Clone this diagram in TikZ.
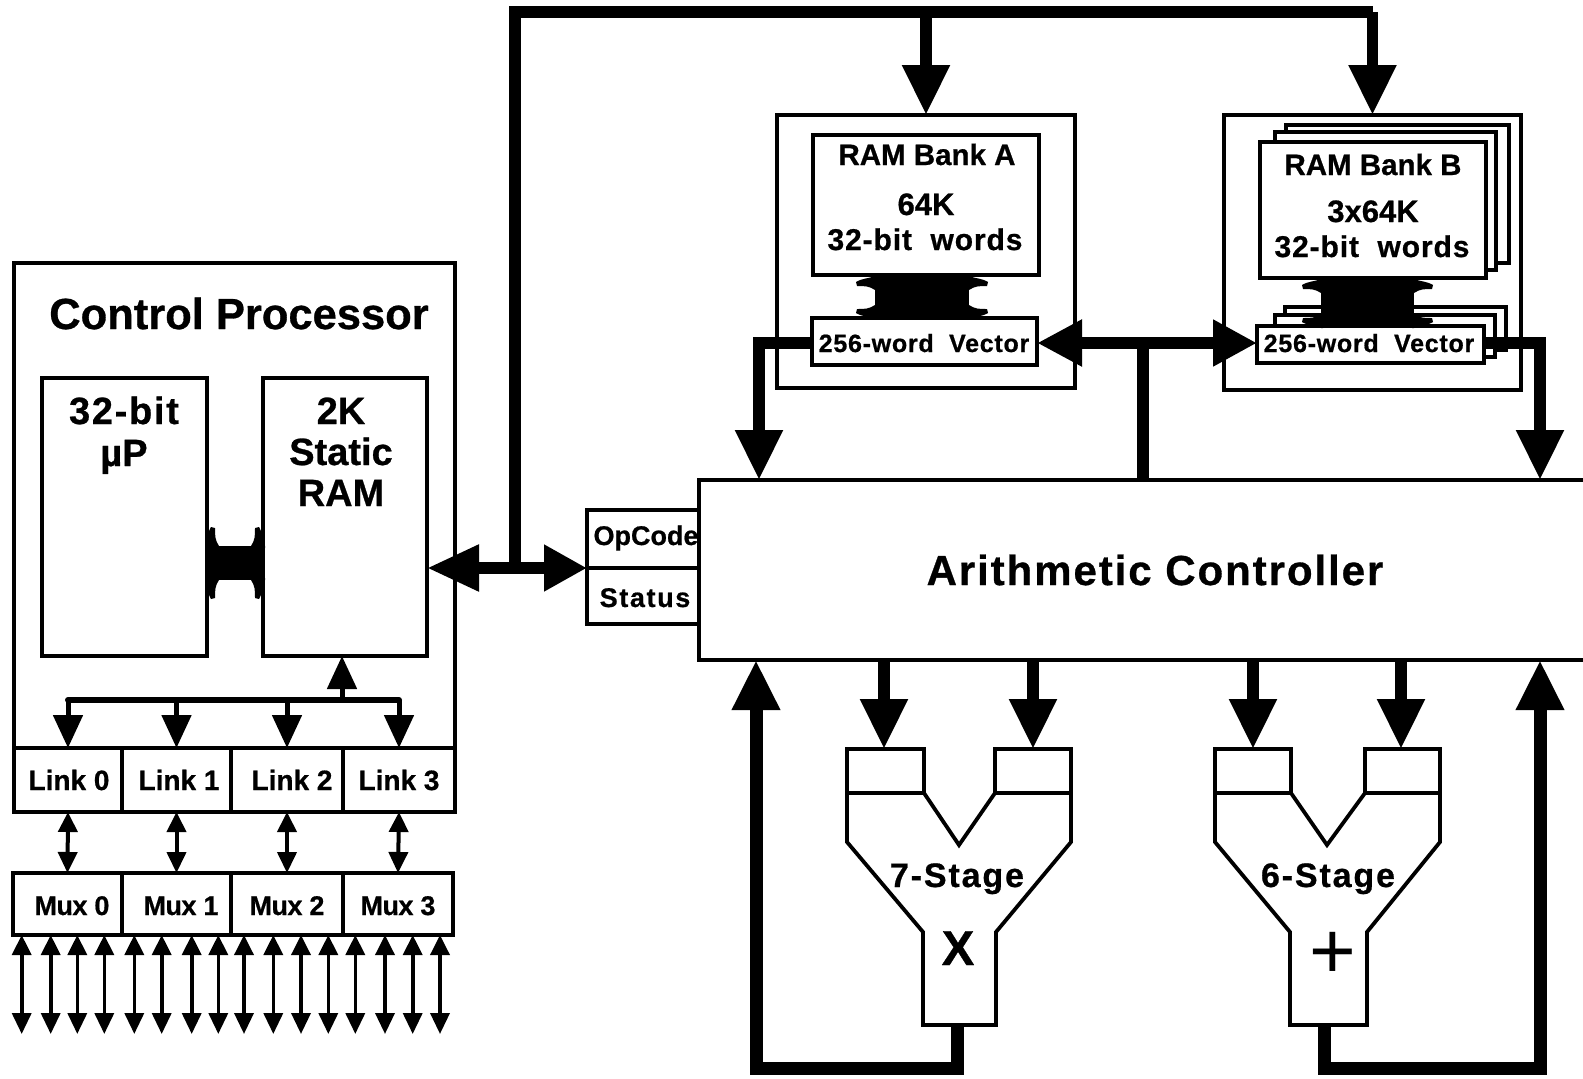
\documentclass[tikz,border=0pt]{standalone}
\usepackage{fontspec}
\setmainfont{Liberation Sans}
\usetikzlibrary{arrows.meta,fit}
\newcommand\fsz[2]{\fontsize{#1}{#1}\selectfont\addfontfeature{LetterSpace=#2,FakeBold=0.7}}
\newcommand\flangev[4]{\fill[shift={(#1,#2)},xscale=#3,yscale=#4] (2,-2) -- (0,-2) .. controls (-8,1) and (-12,0) .. (-19,4) -- (-18,8) .. controls (-10,8) and (-6,8) .. (0,12) -- (2,12) -- cycle;}
\newcommand\flangeh[4]{\fill[shift={(#1,#2)},xscale=#3,yscale=#4] (-2,2) -- (-2,0) .. controls (1,-8) and (0,-12) .. (4,-19) -- (8,-18) .. controls (8,-10) and (8,-6) .. (12,0) -- (12,2) -- cycle;}
\tikzset{
  box/.style={draw=black,line width=3.8pt,fill=white,inner sep=0pt,outer sep=0pt,line join=miter},
  outline/.style={draw=black,line width=3.8pt,line join=miter},
  lab/.style={anchor=base,inner sep=0pt,font=\bfseries,text=black},
  bigbus/.style={line width=11.5pt,draw=black,line join=miter},
  bighead/.style={-{Triangle[length=50pt,width=45pt]}},
  bothhead/.style={{Triangle[length=45pt,width=44pt]}-{Triangle[length=44pt,width=44pt]}},
  cphead/.style={{Triangle[length=52pt,width=44pt]}-{Triangle[length=43pt,width=44pt]}},
  linkhead/.style={line width=5pt,-{Triangle[length=33pt,width=29pt]}},
  smalldbl/.style={line width=4pt,{Triangle[length=20pt,width=19pt]}-{Triangle[length=21pt,width=19pt]}},
}
\begin{document}
\begin{tikzpicture}[x=1pt,y=-1pt]
\useasboundingbox[fill=white] (0,0) rectangle (1583,1079);
% Control processor
\node[box,fit={(14,263)(455,748)}] (cp) {};
\node[box,fit={(42,378)(207,656)}] (up) {};
\node[box,fit={(263,378)(427,656)}] (ram) {};
\node[box,fit={(14,748)(122,812)}] (link0) {};
\node[box,fit={(122,748)(231,812)}] (link1) {};
\node[box,fit={(231,748)(343,812)}] (link2) {};
\node[box,fit={(343,748)(455,812)}] (link3) {};
\node[box,fit={(13,873)(122,935)}] (mux0) {};
\node[box,fit={(122,873)(231,935)}] (mux1) {};
\node[box,fit={(231,873)(343,935)}] (mux2) {};
\node[box,fit={(343,873)(453,935)}] (mux3) {};
\node[lab] (tcp) at (239,329) {\fsz{43.5}{0}Control Processor};
\node[lab] (tup1) at (124,424) {\fsz{38}{4.5}32-bit};
\node[lab] (tup2) at (124,466) {\fsz{38}{0}µP};
\node[lab] (tr1) at (341,424) {\fsz{38}{0}2K};
\node[lab] (tr2) at (341,465) {\fsz{38}{0}Static};
\node[lab] (tr3) at (341,506) {\fsz{38}{0}RAM};
\node[lab] (tl0) at (69,790) {\fsz{28}{0}Link 0};
\node[lab] (tl1) at (179,790) {\fsz{28}{0}Link 1};
\node[lab] (tl2) at (292,790) {\fsz{28}{0}Link 2};
\node[lab] (tl3) at (399,790) {\fsz{28}{0}Link 3};
\node[lab] (tm0) at (72,915) {\fsz{27}{-2}Mux 0};
\node[lab] (tm1) at (181,915) {\fsz{27}{-2}Mux 1};
\node[lab] (tm2) at (287,915) {\fsz{27}{-2}Mux 2};
\node[lab] (tm3) at (398,915) {\fsz{27}{-2}Mux 3};
% internal bus up--ram
\draw[line width=34pt] (up.east |- 0,563) -- (ram.west |- 0,563);
\flangeh{207}{546}{1}{1}\flangeh{263}{546}{-1}{1}\flangeh{207}{580}{1}{-1}\flangeh{263}{580}{-1}{-1}
% link bus
\coordinate (lb) at (0,700);
\draw[line width=6pt,line cap=round] (link0.north |- lb) -- (link3.north |- lb);
\draw[linkhead] (link0.north |- lb) -- (link0.north);
\draw[linkhead] (link1.north |- lb) -- (link1.north);
\draw[linkhead] (link2.north |- lb) -- (link2.north);
\draw[linkhead] (link3.north |- lb) -- (link3.north);
\draw[linkhead] (ram.south |- lb) ++(-3,0) coordinate (ru) -- (ru |- ram.south);
% link <-> mux
\draw[smalldbl] (link0.south) -- (mux0.north);
\draw[smalldbl] (link1.south) -- (mux1.north);
\draw[smalldbl] (link2.south) -- (mux2.north);
\draw[smalldbl] (link3.south) -- (mux3.north);
% mux outputs
\foreach \px [count=\i] in {21.7,50.7,77.3,104.3,134.3,161.7,191.7,218.3,244,273.3,301,328.3,355.3,385,412.7,440}{
  \coordinate (out\i) at (\px,1034);
  \draw[smalldbl,line width=3.6pt] (out\i |- mux0.south) -- (out\i);
}
% OpCode / Status
\node[box,fit={(587,510)(699,568)}] (op) {};
\node[box,fit={(587,568)(699,624)}] (st) {};
% Arithmetic controller (open at the right edge)
\node[inner sep=0pt,outer sep=0pt,fill=white,fit={(699,480)(1583,660)}] (ac) {};
\draw[line width=3.8pt] (ac.north east) -- (ac.north west) -- (ac.south west) -- (ac.south east);
\node[lab] (top) at (646,545) {\fsz{27}{0}OpCode};
\node[lab] (tst) at (645,607) {\fsz{27}{6}Status};
\node[lab] (tac) at (1155,585) {\fsz{42}{4.6}Arithmetic Controller};
% Bank A
\node[box,fit={(777,115)(1075,388)}] (bankA) {};
\node[box,fit={(813,135)(1039,275)}] (ramA) {};
\node[box,fit={(812,318)(1037,365)}] (vecA) {};
\draw[line width=94pt] (ramA.south) ++(-4,0) coordinate (sA) -- (sA |- vecA.north);
\flangev{875}{278}{1}{1}\flangev{969}{278}{-1}{1}\flangev{875}{317}{1}{-1}\flangev{969}{317}{-1}{-1}
\node[lab] (tra1) at (927,165) {\fsz{29.5}{0}RAM Bank A};
\node[lab] (tra2) at (926,215) {\fsz{31}{0}64K};
\node[lab] (tra3) at (925,250) {\fsz{30}{3}32-bit\ \ words};
\node[lab] (tva) at (924,352) {\fsz{25}{3}256-word\ \ Vector};
% Bank B
\node[box,fit={(1224,115)(1521,390)}] (bankB) {};
\node[box,fit={(1286,125)(1509,263)}] (ramB3) {};
\node[box,fit={(1275,132)(1496,270)}] (ramB2) {};
\node[box,fit={(1260,142)(1486,278)}] (ramB) {};
\node[box,fit={(1285,307)(1506,350)}] (vecB3) {};
\node[box,fit={(1275,315)(1495,357)}] (vecB2) {};
\node[box,fit={(1257,326)(1484,363)}] (vecB) {};
\draw[line width=93pt] (ramB.south) ++(-5.5,0) coordinate (sB) -- (sB |- vecB.north);
\flangev{1321}{281}{1}{1}\flangev{1414}{281}{-1}{1}\flangev{1321}{326}{1}{-1}\flangev{1414}{326}{-1}{-1}
\node[lab] (trb1) at (1373,175) {\fsz{29.5}{0}RAM Bank B};
\node[lab] (trb2) at (1373,222) {\fsz{31}{0}3x64K};
\node[lab] (trb3) at (1372,257) {\fsz{30}{3}32-bit\ \ words};
\node[lab] (tvb) at (1369,352) {\fsz{25}{3}256-word\ \ Vector};
% top bus
\coordinate (hy) at (0,568);
\coordinate (tb) at (0,12);
\coordinate (jn) at (515,568);
\draw[bigbus] (jn) -- (jn |- tb) -- (bankB.north |- tb);
\draw[bigbus,bighead] (bankA.north |- tb) -- (bankA.north);
\draw[bigbus,bighead] (bankB.north |- tb) -- (bankB.north);
\draw[bigbus,cphead] (ram.east |- hy) -- (op.south west);
% vector buses
\coordinate (vy) at (0,343);
\coordinate (jv) at (1143,343);
\coordinate (acl) at (759,480);
\coordinate (acr) at (1540,480);
\draw[bigbus,bothhead] (vecA.east |- vy) -- (vecB.west |- vy);
\draw[bigbus] (jv) -- (jv |- ac.north);
\draw[bigbus,bighead] (vecA.west |- vy) -- (acl |- vy) -- (acl);
\draw[bigbus,bighead] (vecB.east |- vy) -- (acr |- vy) -- (acr);
% multiplier
\node[box,fit={(847,749)(924,793)}] (mL) {};
\node[box,fit={(995,749)(1071,793)}] (mR) {};
\node[box,fit={(1215,749)(1291,793)}] (aL) {};
\node[box,fit={(1365,749)(1440,793)}] (aR) {};
\draw[outline] (mL.south west) -- (847,842) -- (923,932) |- (996,1025) -- (996,932) -- (1071,842) -- (mR.south east);
\draw[outline] (mL.south east) -- (959,845) -- (mR.south west);
\draw[outline] (aL.south west) -- (1215,842) -- (1290,932) |- (1367,1025) -- (1367,932) -- (1440,842) -- (aR.south east);
\draw[outline] (aL.south east) -- (1327,845) -- (aR.south west);
\node[lab] (t7) at (957,887) {\fsz{34}{5.5}7-Stage};
\node[lab] (t6) at (1328,887) {\fsz{34}{5.5}6-Stage};
\node[lab] (tx) at (958,965) {\fsz{49}{0}X};
\node[anchor=base,inner sep=0pt] (tp) at (1333,978) {\fontsize{80}{80}\selectfont +};
% arrows into pipelines
\draw[bigbus,bighead] (mL.north |- ac.south) ++(-1.5,0) coordinate (a1) -- (a1 |- mL.north);
\draw[bigbus,bighead] (mR.north |- ac.south) coordinate (a2) -- (a2 |- mR.north);
\draw[bigbus,bighead] (aL.north |- ac.south) coordinate (a3) -- (a3 |- aL.north);
\draw[bigbus,bighead] (aR.north |- ac.south) ++(-1.5,0) coordinate (a4) -- (a4 |- aR.north);
% feedback
\coordinate (fy) at (0,1068);
\coordinate (fl) at (756,660);
\coordinate (fr) at (1540,660);
\draw[bigbus,line width=13pt,bighead] (957,1025) -- (957,1068) -- (fl |- fy) -- (fl);
\draw[bigbus,line width=13pt,bighead] (1324,1025) -- (1324,1068) -- (fr |- fy) -- (fr);
\end{tikzpicture}
\end{document}
